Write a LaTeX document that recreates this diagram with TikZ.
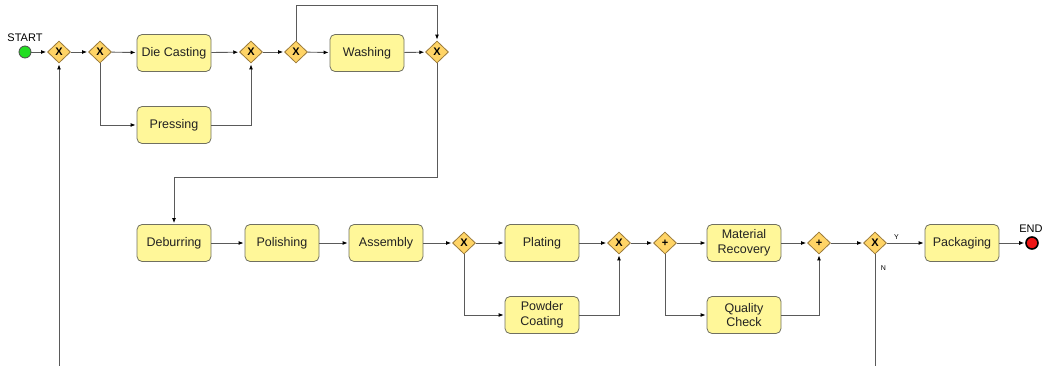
\documentclass[tikz,border=0pt]{standalone}
\usepackage{fontspec}
\setmainfont{Liberation Sans}
\usetikzlibrary{shapes.geometric,arrows.meta}
\definecolor{taskfill}{HTML}{FFF799}
\definecolor{taskline}{HTML}{707060}
\definecolor{gatefill}{HTML}{FFD466}
\definecolor{gateline}{HTML}{9A7A3A}
\definecolor{flowline}{HTML}{5A5A5A}
\definecolor{startfill}{HTML}{22DD22}
\definecolor{endfill}{HTML}{EE1515}
\definecolor{tasktext}{HTML}{222222}
\tikzset{
  task/.style={draw=taskline, fill=taskfill, rounded corners=5pt, line width=0.8pt, text=tasktext,
    minimum width=74pt, minimum height=37pt, align=center, font=\fontsize{12.5}{14.5}\selectfont, inner sep=1pt},
  gate/.style={diamond, draw=gateline, fill=gatefill, line width=0.8pt,
    minimum width=23pt, minimum height=22pt, inner sep=0pt, font=\bfseries\fontsize{11}{11}\selectfont},
  startev/.style={circle, draw=black!70, fill=startfill, line width=0.8pt, minimum size=12pt, inner sep=0pt},
  endev/.style={circle, draw=black, fill=endfill, line width=1.6pt, minimum size=12pt, inner sep=0pt},
  flow/.style={draw=flowline, line width=0.9pt, -{Latex[length=5pt,width=4pt,black]}, shorten >=1pt},
  plainflow/.style={draw=flowline, line width=0.9pt},
  evlabel/.style={font=\fontsize{11}{11}\selectfont},
  small/.style={font=\fontsize{7}{7}\selectfont}
}
\begin{document}
\begin{tikzpicture}[x=1pt,y=-1pt]
\useasboundingbox (0,0) rectangle (1044,366);

% upper row
\node[startev] (start) at (25,52) {};
\node[evlabel, anchor=south] (startlbl) at (25,45) {START};
\node[gate] (g1) at (59,52) {X};
\node[gate] (g2) at (100,52) {X};
\node[task] (die) at (174,53) {Die Casting};
\node[task] (press) at (174,125) {Pressing};
\node[gate] (g3) at (251,52) {X};
\node[gate] (g4) at (296,52) {X};
\node[task] (wash) at (367,53) {Washing};
\node[gate] (g5) at (437,52) {X};

% lower row
\node[task] (deb) at (174,243) {Deburring};
\node[task] (pol) at (282,243) {Polishing};
\node[task] (asm) at (386,243) {Assembly};
\node[gate] (g6) at (464,243) {X};
\node[task] (plat) at (542,243) {Plating};
\node[task] (powd) at (542,315) {Powder\\Coating};
\node[gate] (g7) at (619,243) {X};
\node[gate] (g8) at (665,243) {+};
\node[task] (mat) at (744,243) {Material\\Recovery};
\node[task] (qual) at (744,315) {Quality\\Check};
\node[gate] (g9) at (819,243) {+};
\node[gate] (g10) at (875,243) {X};
\node[task] (pack) at (962,243) {Packaging};
\node[endev] (end) at (1032,243) {};
\node[evlabel, anchor=south] (endlbl) at (1031,236) {END};

% routing points
\coordinate (top) at (0,5);
\coordinate (mid) at (0,177);
\coordinate (loopin) at (59,366);
\coordinate (noout) at (875,366);

% upper flows
\draw[flow] (start) -- (g1);
\draw[flow] (g1) -- (g2);
\draw[flow] (g2) -- (die);
\draw[flow] (g2.south) |- (press.west);
\draw[flow] (die) -- (g3);
\draw[flow] (press.east) -| (g3.south);
\draw[flow] (g3) -- (g4);
\draw[flow] (g4) -- (wash);
\draw[flow] (wash) -- (g5);
\draw[flow] (g4.north) -- (g4.north |- top) -| (g5.north);
\draw[flow] (loopin) -- (g1.south);

% transfer to lower row
\draw[flow] (g5.south) -- (g5.south |- mid) -| (deb.north);

% lower flows
\draw[flow] (deb) -- (pol);
\draw[flow] (pol) -- (asm);
\draw[flow] (asm) -- (g6);
\draw[flow] (g6) -- (plat);
\draw[flow] (g6.south) |- (powd.west);
\draw[flow] (plat) -- (g7);
\draw[flow] (powd.east) -| (g7.south);
\draw[flow] (g7) -- (g8);
\draw[flow] (g8) -- (mat);
\draw[flow] (g8.south) |- (qual.west);
\draw[flow] (mat) -- (g9);
\draw[flow] (qual.east) -| (g9.south);
\draw[flow] (g9) -- (g10);
\draw[flow] (g10) -- node[small, above, pos=0.25] (ylbl) {Y} (pack);
\draw[flow] (pack) -- (end);
\draw[plainflow] (g10.south) -- node[small, right, pos=0.12, xshift=2pt] (nlbl) {N} (noout);
\end{tikzpicture}
\end{document}
